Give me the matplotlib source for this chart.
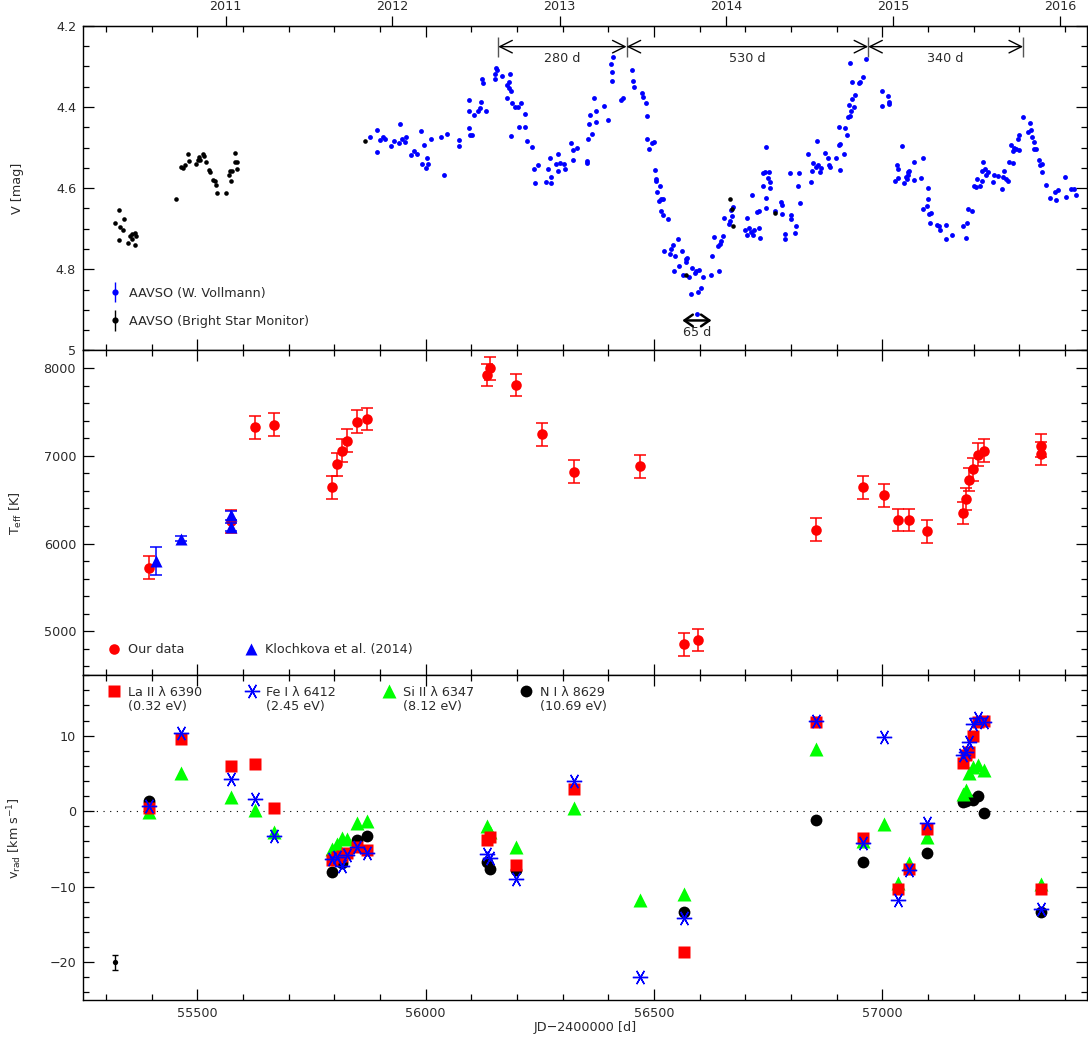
import numpy as np
import matplotlib
matplotlib.use('Agg')
import matplotlib.pyplot as plt
from matplotlib.ticker import MultipleLocator, NullLocator, FuncFormatter
from matplotlib.legend_handler import HandlerErrorbar
from matplotlib.legend import Legend
from matplotlib.lines import Line2D

# ---------------- photometry: JD-2400000, V [mag]
jd_bsm = [55320.5, 55328, 55329, 55331, 55336.6, 55340, 55349, 55353, 55357, 55358,
          55363, 55364, 55366.5, 55453, 55465, 55469, 55474, 55480, 55481, 55497,
          55501, 55504.5, 55506, 55512, 55515, 55520, 55525, 55527, 55533.6, 55538,
          55541, 55544, 55563.5, 55570, 55572, 55575, 55577, 55582, 55582, 55587,
          55588, 55868, 56571, 56667, 56671, 56673, 56765]
v_bsm = [4.685, 4.653, 4.727, 4.696, 4.703, 4.677, 4.735, 4.719, 4.725, 4.714,
         4.710, 4.739, 4.717, 4.628, 4.549, 4.550, 4.542, 4.516, 4.534, 4.540,
         4.531, 4.523, 4.530, 4.515, 4.521, 4.536, 4.556, 4.561, 4.579, 4.583,
         4.593, 4.612, 4.612, 4.567, 4.557, 4.583, 4.559, 4.513, 4.536, 4.536,
         4.552, 4.485, 4.814, 4.628, 4.651, 4.693, 4.662]

jd_vol = [55878, 55893, 55894, 55901, 55907, 55912, 55925, 55930, 55941, 55945,
          55948, 55954, 55956, 55969, 55975, 55982, 55989, 55992, 55996, 56000,
          56004, 56006, 56011, 56034, 56040, 56046, 56073, 56074, 56094, 56094,
          56094, 56098, 56102, 56107, 56115, 56118, 56121, 56124, 56126, 56132,
          56151, 56151, 56154, 56157, 56167, 56179, 56179, 56182, 56183, 56185,
          56188, 56188, 56189, 56196, 56202, 56204, 56208, 56217, 56218, 56223,
          56234, 56237, 56240, 56246, 56264, 56267, 56272, 56275, 56275, 56286,
          56290, 56290, 56294, 56303, 56305, 56318, 56322, 56322, 56331,
          56353, 56353, 56355, 56358, 56360, 56364, 56369, 56372, 56373, 56391,
          56400, 56405, 56408, 56408, 56411, 56428, 56432, 56452, 56454, 56457,
          56473, 56476, 56482, 56484, 56484, 56490, 56495, 56500, 56502, 56504,
          56505, 56506, 56511, 56513, 56516, 56516, 56519, 56520, 56522, 56530,
          56534, 56538, 56542, 56544, 56545, 56552, 56554, 56562, 56564, 56569,
          56571, 56573, 56576, 56581, 56583, 56589, 56593, 56595, 56596, 56599,
          56602, 56608, 56625, 56628, 56631, 56640, 56643, 56644, 56647, 56652,
          56654, 56664, 56667, 56669, 56671, 56673, 56700, 56703, 56704, 56709,
          56713, 56714, 56716, 56720, 56726, 56729, 56730, 56732, 56738, 56738,
          56742, 56746, 56746, 56746, 56749, 56752, 56754, 56755, 56765, 56778,
          56780, 56780, 56786, 56787, 56798, 56799, 56800, 56809, 56810, 56816,
          56817, 56819, 56837, 56843, 56845, 56849, 56854, 56856, 56860, 56864,
          56866, 56875, 56880, 56884,
          56886, 56898, 56905, 56905, 56907, 56908, 56917, 56918, 56923, 56924,
          56927, 56929, 56929, 56932, 56934, 56934, 56937, 56940, 56948, 56950,
          56958, 56964, 57000, 57000, 57013, 57015, 57015, 57028, 57033, 57034,
          57035, 57042, 57048, 57051, 57054, 57055, 57057, 57058, 57069, 57070,
          57085, 57088, 57089, 57098, 57099, 57099, 57102, 57105, 57106, 57119,
          57124, 57126, 57139, 57139, 57153, 57177, 57183, 57186, 57188, 57197,
          57201, 57206, 57208, 57214, 57218, 57219, 57220, 57224, 57226, 57231,
          57243, 57245, 57253, 57261, 57263, 57266, 57270, 57274, 57277, 57282,
          57285, 57286, 57289, 57293, 57296, 57298, 57299, 57307, 57318, 57323,
          57325, 57328, 57331, 57332, 57337, 57343, 57346, 57350, 57350, 57359,
          57366, 57378, 57381, 57385, 57399, 57401, 57413, 57419, 57423]
v_vol = [4.475, 4.456, 4.512, 4.482, 4.475, 4.480, 4.496, 4.485, 4.489, 4.441,
         4.480, 4.486, 4.474, 4.519, 4.508, 4.517, 4.460, 4.540, 4.493, 4.550,
         4.525, 4.541, 4.480, 4.475, 4.567, 4.466, 4.481, 4.496, 4.383, 4.409,
         4.453, 4.468, 4.468, 4.420, 4.409, 4.402, 4.388, 4.330, 4.340, 4.411,
         4.318, 4.332, 4.305, 4.310, 4.323, 4.345, 4.379, 4.338, 4.353, 4.320,
         4.361, 4.471, 4.391, 4.399, 4.401, 4.449, 4.391, 4.417, 4.450, 4.485,
         4.498, 4.552, 4.587, 4.544, 4.584, 4.554, 4.525, 4.573, 4.587, 4.540,
         4.516, 4.558, 4.537, 4.540, 4.552, 4.489, 4.531, 4.505, 4.500,
         4.533, 4.538, 4.480, 4.443, 4.420, 4.466, 4.378, 4.438, 4.411, 4.398,
         4.432, 4.295, 4.314, 4.336, 4.278, 4.383, 4.377, 4.310, 4.337, 4.350,
         4.365, 4.375, 4.390, 4.423, 4.478, 4.504, 4.490, 4.486, 4.555, 4.577,
         4.583, 4.610, 4.631, 4.594, 4.626, 4.657, 4.667, 4.626, 4.756, 4.677,
         4.762, 4.751, 4.741, 4.805, 4.767, 4.725, 4.793, 4.756, 4.815, 4.774,
         4.782, 4.772, 4.820, 4.861, 4.797, 4.809, 4.805, 4.909, 4.856, 4.802,
         4.845, 4.818, 4.815, 4.768, 4.721, 4.742, 4.805, 4.738, 4.731, 4.719,
         4.673, 4.688, 4.681, 4.654, 4.668, 4.646, 4.704, 4.715, 4.673, 4.698,
         4.708, 4.616, 4.716, 4.704, 4.659, 4.656, 4.698, 4.723, 4.595, 4.563,
         4.560, 4.499, 4.624, 4.649, 4.575, 4.560, 4.586, 4.600, 4.657, 4.634,
         4.642, 4.664, 4.712, 4.726, 4.563, 4.665, 4.675, 4.710, 4.693, 4.595,
         4.563, 4.636, 4.515, 4.584, 4.558, 4.539, 4.548, 4.485, 4.544, 4.560,
         4.550, 4.513, 4.527, 4.544,
         4.548, 4.526, 4.450, 4.495, 4.555, 4.492, 4.517, 4.453, 4.468, 4.425,
         4.396, 4.422, 4.293, 4.411, 4.381, 4.338, 4.401, 4.370, 4.340, 4.338,
         4.327, 4.282, 4.361, 4.397, 4.373, 4.388, 4.394, 4.582, 4.544, 4.552,
         4.575, 4.497, 4.587, 4.573, 4.577, 4.561, 4.567, 4.559, 4.536, 4.581,
         4.575, 4.525, 4.652, 4.643, 4.600, 4.626, 4.664, 4.685, 4.661, 4.690,
         4.693, 4.702, 4.692, 4.726, 4.716, 4.693, 4.722, 4.686, 4.651, 4.656,
         4.596, 4.597, 4.578, 4.596, 4.582, 4.558, 4.536, 4.554, 4.567, 4.560,
         4.585, 4.567, 4.570, 4.601, 4.573, 4.557, 4.578, 4.583, 4.536, 4.493,
         4.537, 4.508, 4.501, 4.504, 4.478, 4.507, 4.470, 4.424, 4.462, 4.439,
         4.456, 4.474, 4.487, 4.503, 4.503, 4.530, 4.542, 4.540, 4.560, 4.593,
         4.624, 4.610, 4.630, 4.605, 4.572, 4.622, 4.603, 4.601, 4.618]

# light maxima and the period labels between them
max_jd = [56159, 56440, 56969, 57308]
period_lab = ['280 d', '530 d', '340 d']
short_jd = [56562, 56626]
short_lab = '65 d'

# ---------------- effective temperature
jd_teff = [55394, 55574, 55626, 55669, 55794, 55807, 55817, 55827, 55850, 55871,
           56135, 56142, 56198, 56254, 56325, 56470, 56565, 56596, 56855, 56957,
           57004, 57034, 57058, 57098, 57177, 57184, 57189, 57198, 57210, 57223,
           57348, 57348]
teff = [5727, 6254, 7326, 7356, 6640, 6905, 7057, 7174, 7390, 7420,
        7920, 7996, 7807, 7246, 6818, 6879, 4852, 4902, 6159, 6640,
        6549, 6269, 6269, 6140, 6348, 6508, 6727, 6848, 7011, 7057,
        7114, 7023]
teff_err = [130] * len(teff)

jd_kl = [55410, 55464, 55574, 55574]
teff_kl = [5799, 6057, 6322, 6189]
teff_kl_err = [160, 30, 50, 50]

# ---------------- radial velocities [km/s]
jd_la = [55394, 55464, 55574, 55626, 55669, 55794, 55807, 55817, 55827, 55850,
         55871, 56135, 56142, 56198, 56325, 56565, 56855, 56957, 57034, 57058,
         57098, 57177, 57184, 57189, 57198, 57210, 57223, 57348]
v_la = [0.4, 9.5, 6.0, 6.3, 0.4, -6.4, -6.1, -5.9, -5.5, -4.8,
        -5.2, -3.8, -3.4, -7.1, 3.0, -18.6, 11.8, -3.5, -10.3, -7.6,
        -2.3, 6.4, 7.4, 7.9, 10.0, 11.8, 11.9, -10.3]

jd_fe = [55394, 55464, 55574, 55626, 55669, 55794, 55807, 55817, 55827, 55850,
         55871, 56135, 56142, 56198, 56325, 56470, 56565, 56855, 56957, 57004,
         57034, 57058, 57098, 57177, 57184, 57189, 57198, 57210, 57223, 57348]
v_fe = [0.7, 10.3, 4.3, 1.6, -3.3, -6.3, -6.0, -7.3, -5.8, -4.8,
        -5.6, -5.7, -6.2, -9.0, 4.0, -22.0, -14.2, 12.0, -4.2, 9.8,
        -11.7, -7.8, -1.6, 7.4, 7.8, 9.2, 11.5, 12.3, 11.8, -12.9]

jd_si = [55394, 55464, 55574, 55626, 55669, 55794, 55807, 55817, 55827, 55850,
         55871, 56135, 56142, 56198, 56325, 56470, 56565, 56855, 56957, 57004,
         57034, 57058, 57098, 57177, 57184, 57189, 57198, 57210, 57223, 57348]
v_si = [-0.1, 5.0, 1.9, 0.1, -2.8, -5.0, -4.3, -3.6, -3.7, -1.6,
        -1.3, -2.0, -2.8, -4.7, 0.4, -11.8, -11.0, 8.2, -4.0, -1.7,
        -9.5, -6.9, -3.4, 2.3, 2.8, 5.0, 5.9, 6.1, 5.4, -9.7]

jd_n = [55394, 55794, 55807, 55817, 55850, 55871, 56135, 56142, 56198, 56565,
        56855, 56957, 57098, 57177, 57184, 57198, 57210, 57223, 57348]
v_n = [1.3, -8.1, -6.5, -6.8, -3.8, -3.3, -6.7, -7.7, -7.85, -13.3,
       -1.1, -6.7, -5.6, 1.2, 1.3, 1.5, 2.0, -0.3, -13.3]

# typical rv error
typ_jd = [55319]
typ_v = [-20.0]
typ_err = [1.0]

rv_lines = ['La II \u03bb 6390', 'Fe I \u03bb 6412', 'Si II \u03bb 6347', 'N I \u03bb 8629']
rv_exc = ['(0.32 eV)', '(2.45 eV)', '(8.12 eV)', '(10.69 eV)']

year_jd = [55562.5, 55927.5, 56293.5, 56658.5, 57023.5, 57388.5]
year_lab = ['2011', '2012', '2013', '2014', '2015', '2016']

# ---------------- figure
plt.rcParams['font.family'] = 'DejaVu Sans'
plt.rcParams['font.size'] = 9.2
txtc = '#2a2a2a'

fig, axes = plt.subplots(3, 1, sharex=True, figsize=(10.88, 10.38), dpi=100)
fig.subplots_adjust(left=0.0763, right=0.9991, top=0.9752, bottom=0.0366, hspace=0)
ax1, ax2, ax3 = axes

for ax in axes:
    ax.tick_params(which='both', direction='in', top=True, right=True,
                   width=0.9, labelcolor=txtc, pad=5)
    ax.tick_params(which='major', length=8)
    ax.tick_params(which='minor', length=4.5)
    ax.xaxis.set_major_locator(MultipleLocator(500))
    ax.xaxis.set_minor_locator(MultipleLocator(100))
    for s in ax.spines.values():
        s.set_linewidth(1)
    ax.yaxis.set_label_coords(-0.059, 0.5)
ax3.set_xlim(55250, 57448)


def one_legend(ax, handles, labels, anchor, loc, **kw):
    lg = Legend(ax, handles, labels, loc=loc, bbox_to_anchor=anchor, frameon=False,
                handlelength=0.95, handletextpad=0.62, borderpad=0, borderaxespad=0,
                numpoints=1, **kw)
    for t in lg.get_texts():
        t.set_color(txtc)
    ax.add_artist(lg)


# ---- top panel
ax1.plot(jd_vol, v_vol, 'o', color='#0000ff', ms=3.5, mec='none', zorder=3)
ax1.plot(jd_bsm, v_bsm, 'o', color='k', ms=3.3, mec='none', zorder=4)
ax1.set_ylim(5.0, 4.2)
ax1.yaxis.set_major_locator(MultipleLocator(0.2))
ax1.yaxis.set_minor_locator(MultipleLocator(0.05))
ax1.yaxis.set_major_formatter(FuncFormatter(lambda v, p: f'{v:g}'))
ax1.set_ylabel('V [mag]', color=txtc)

h_vol = ax1.errorbar([], [], yerr=[], fmt='o', color='#0000ff', ms=4.5, mec='none',
                     capsize=2.5, elinewidth=1)
h_bsm = ax1.errorbar([], [], yerr=[], fmt='o', color='k', ms=4.5, mec='none',
                     capsize=2.5, elinewidth=1)
one_legend(ax1, [h_vol, h_bsm], ['AAVSO (W. Vollmann)', 'AAVSO (Bright Star Monitor)'],
           (0.026, 0.070), 'lower left', labelspacing=1.18,
           handler_map={type(h_vol): HandlerErrorbar(yerr_size=0.8, numpoints=1)})

ax1.vlines(max_jd, 4.227, 4.277, color='#555555', lw=1)
for x0, x1, lab in zip(max_jd[:-1], max_jd[1:], period_lab):
    ax1.annotate('', xy=(x1, 4.2515), xytext=(x0, 4.2515),
                 arrowprops=dict(arrowstyle='<->,head_length=0.6,head_width=0.3',
                                 lw=1, color='k', shrinkA=0, shrinkB=0,
                                 mutation_scale=15))
    ax1.text((x0 + x1) / 2, 4.281, lab, ha='center', va='center', color=txtc)
ax1.annotate('', xy=(short_jd[1], 4.926), xytext=(short_jd[0], 4.926),
             arrowprops=dict(arrowstyle='<->,head_length=0.5,head_width=0.35',
                             lw=1.8, color='k', shrinkA=0, shrinkB=0,
                             mutation_scale=12))
ax1.text(np.mean(short_jd), 4.955, short_lab, ha='center', va='center', color=txtc)

sec = ax1.secondary_xaxis('top')
sec.set_xticks(year_jd, labels=year_lab)
sec.xaxis.set_minor_locator(NullLocator())
sec.tick_params(direction='out', length=7, width=0.9, pad=2, labelcolor=txtc)

# ---- middle panel
e1 = ax2.errorbar(jd_teff, teff, yerr=teff_err, fmt='o', color='#ff0000', ms=7.6,
                  mec='none', capsize=4, elinewidth=1.1, capthick=1.1, zorder=3)
e2 = ax2.errorbar(jd_kl, teff_kl, yerr=teff_kl_err, fmt='^', color='#0000ff', ms=8.5,
                  mec='none', capsize=4, elinewidth=1.1, capthick=1.1, zorder=4)
ax2.set_ylim(4500, 8200)
ax2.yaxis.set_major_locator(MultipleLocator(1000))
ax2.yaxis.set_minor_locator(MultipleLocator(200))
ax2.set_ylabel(r'T$_{\rm eff}$ [K]', color=txtc)
one_legend(ax2, [e1[0]], ['Our data'], (0.0253, 0.079), 'center left')
one_legend(ax2, [e2[0]], ['Klochkova et al. (2014)'], (0.1615, 0.079), 'center left')

# ---- bottom panel
ax3.axhline(0, color='k', lw=0.8, ls=(0, (1, 5)), zorder=1)
hn, = ax3.plot(jd_n, v_n, 'o', color='k', ms=8.5, mec='none', zorder=2)
hs, = ax3.plot(jd_si, v_si, '^', color='#00ff00', ms=9.5, mec='none', zorder=3)
hl, = ax3.plot(jd_la, v_la, 's', color='#ff0000', ms=8.5, mec='none', zorder=4)
hf, = ax3.plot(jd_fe, v_fe, marker=(6, 2, 90), ls='none', color='#0000ff', ms=11,
               mew=1, zorder=5)
ax3.errorbar(typ_jd, typ_v, yerr=typ_err, fmt='o', color='k', ms=3.8, mec='none',
             capsize=2.5, elinewidth=1, zorder=3)
ax3.set_ylim(-25, 18)
ax3.yaxis.set_major_locator(MultipleLocator(10))
ax3.yaxis.set_minor_locator(MultipleLocator(2))
ax3.set_ylabel(r'v$_{\rm rad}$ [km s$^{-1}$]', color=txtc)
ax3.set_xlabel('JD\u22122400000 [d]', color=txtc)
ax3.xaxis.set_label_coords(0.5, -0.066)
blank = Line2D([], [], ls='none')
for i, (h, l1, l2) in enumerate(zip([hl, hf, hs, hn], rv_lines, rv_exc)):
    one_legend(ax3, [h, blank], [l1, l2], (0.0253 + i * 0.1365, 0.967), 'upper left',
               labelspacing=0.05)

fig.savefig('out.png', dpi=100)
